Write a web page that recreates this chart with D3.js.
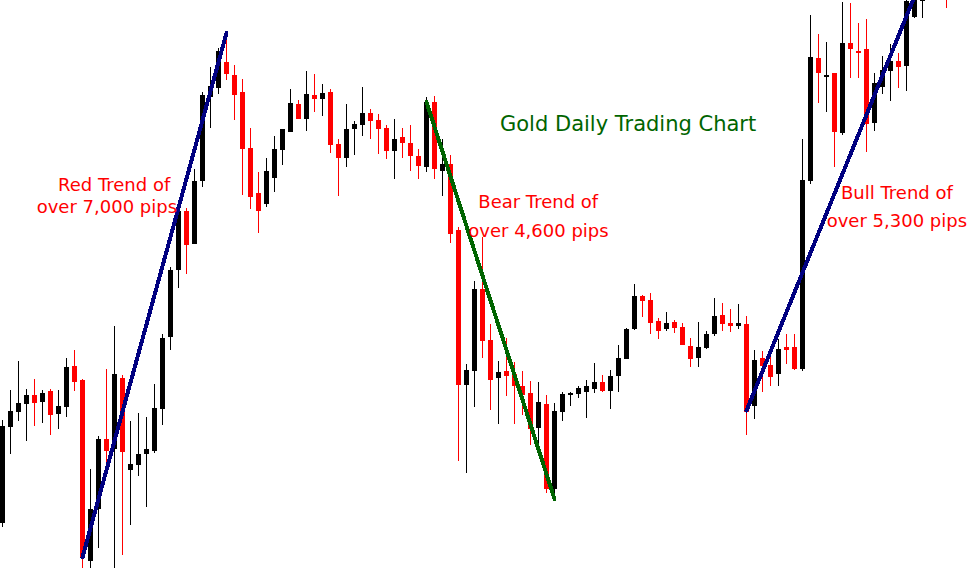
<!DOCTYPE html>
<html>
<head>
<meta charset="utf-8">
<title>Gold Daily Trading Chart</title>
<script src="https://cdn.jsdelivr.net/npm/d3@7"></script>
<style>
	html, body { margin: 0; padding: 0; background: #fff; overflow: hidden; }
	svg { display: block; }
</style>
</head>
<body>
<div id="goldChart"><svg width="971" height="569"></svg></div>
<script>
// daily candles, one per slot (null = bar above the visible window)
const open = [
	77, 173.3, 188.3, 196.3, 205, 198.3, 209, 186, 193.3, 234,
	220, 38.7, 91.3, 161, 151.3, 222, 130.3, 135.3, 146.3, 149.3,
	191.3, 262.7, 330, 389, 356.3, 419, 503.3, 512.3, 538, 525,
	508.3, 452.3, 407.3, 396, 422.3, 450.3, 468.3, 496, 481.3, 505,
	501.3, 508, 456, 442.3, 471, 475, 487, 480, 472, 449.3,
	463, 457, 444, 433.3, 498, 429.3, 436, 370, 215.3, 229.3,
	311, 260, 222.3, 229.3, 226.3, 214.3, 207.3, 172.3, 196.3, 110.7,
	188.3, 205, 206, 208, 211.3, 218, 209, 224, 241, 271,
	304, 300, 279, 271, 278, 273, 254, 242, 252, 266,
	285, 277, 274, 276, 194, 242, 235, 226.3, 253, 253,
	231.3, 418.7, 542, 524, 527, 467.3, 557, 549, 551, 477.3,
	513.3, 529.3, 539, 534.3, 583.3, 599, null, null, 620
];
const high = [
	180, 210, 239, 210.7, 221, 210, 210.7, 210, 242, 250,
	221, 131, 164, 231, 274, 225, 179, 187, 183, 216,
	265.7, 332.7, 391.7, 391.7, 431, 508.3, 533.3, 551.7, 563.3, 535,
	520.7, 472.3, 427.7, 442.3, 464, 471, 511, 500, 529, 526,
	516, 511, 461, 496, 479, 513, 491, 486, 475, 481,
	472, 475, 451, 503, 504, 461, 445, 372.7, 236, 319,
	363.3, 276.3, 239.3, 262.3, 238.3, 229.3, 219.3, 218.3, 205.3, 197.3,
	208.3, 208, 214, 220, 237, 225, 230, 255, 272, 316,
	305, 307, 282, 288, 280, 277, 262, 278, 269, 302,
	297, 291, 296, 284, 250, 249, 243, 261, 266, 266,
	461, 585, 566, 558, 527, 598, 597, 577, 581, 527,
	544, 556, 547, 603, 606, 612, null, null, 628
];
const low = [
	73, 146, 179.3, 159.3, 174, 177.3, 165, 171.3, 183.3, 209.3,
	31.7, 31.7, 51.7, 137, 31.7, 45.3, 75.3, 124.3, 93.3, 147.3,
	175.3, 250, 312.3, 326, 356.3, 413.3, 472.3, 506, 520, 480,
	405, 391, 366.7, 393.3, 408, 435, 468.3, 481.3, 469.3, 488.3,
	484.3, 447.3, 404.3, 433.3, 445.3, 464.3, 461, 446.3, 441.3, 421.3,
	442.3, 429.3, 421.3, 428.3, 421.3, 404.3, 357.3, 139.3, 126.7, 193.3,
	242.3, 190.3, 176.3, 204.3, 176.3, 185.3, 155.3, 156.3, 106.7, 101.7,
	179.3, 194, 202, 182, 207, 208, 191, 208, 241, 270,
	283, 266, 261, 269, 267, 255, 233, 233, 251, 264,
	269, 268, 271, 165, 181, 208.3, 214.3, 214.3, 236.3, 230.3,
	229.3, 415.7, 497.3, 488.3, 433.3, 465.3, 522.3, 522.3, 448.3, 469.3,
	506.3, 499.3, 512.3, 509.3, 582.3, 582.3, null, null, 592.3
];
const close = [
	174, 189, 197, 205, 197.3, 207, 185.3, 194, 233, 218.3,
	42.7, 91, 161, 149.3, 226, 148.3, 136, 146, 151.3, 192,
	262, 330, 389, 355, 419, 505, 514, 549, 526, 505,
	451, 403.3, 389, 429, 451, 471, 497.3, 481.3, 506, 501.3,
	507, 455.3, 442.3, 471, 476, 487, 479.3, 471, 449.3, 461,
	457.3, 444.3, 434.3, 498, 431.3, 436, 366.3, 215.3, 230, 311,
	259.3, 220.3, 228.3, 224.3, 214.3, 205.3, 171.3, 198.3, 110.7, 189.3,
	206.3, 207, 212, 214, 218, 209, 224, 242, 271, 304,
	299, 277, 269, 277, 272, 255, 241, 253, 266, 284,
	276, 274, 277, 188, 240, 234.3, 223.3, 251, 250.3, 231.3,
	420, 543, 527.3, 525, 468.3, 557, 551.3, 547.3, 476.3, 517,
	530, 539, 533.3, 599, 602, 606, null, null, 608
];

// hand-drawn trend lines: [start bar, end bar] and [start price, end price]
const trendBars = [[10, 28], [53, 69], [93, 114]];
const trendPrices = [[42.7, 567], [498, 101], [189.3, 603.7]];
const trendColors = ['#000080', '#006400', '#000080'];

const titleText = 'Gold Daily Trading Chart';
const noteLines = [
	['Red Trend of', 'over 7,000 pips'],
	['Bear Trend of', 'over 4,600 pips'],
	['Bull Trend of', 'over 5,300 pips']
];

const svg = d3.select('#goldChart svg');
const width = +svg.attr('width');
const height = +svg.attr('height');

svg.append('rect')
	.attr('width', width)
	.attr('height', height)
	.attr('fill', '#fff');

// one slot = 8px, candle body 5px
const x = d3.scaleLinear().domain([0, 120]).range([2.5, 962.5]);
const y = d3.scaleLinear().domain([31, 600]).range([height, 0]);

const candles = open
	.map((o, i) => ({ i: i, o: o, h: high[i], l: low[i], c: close[i] }))
	.filter(d => d.o !== null);

const g = svg.append('g').attr('shape-rendering', 'crispEdges');

const candle = g
	.selectAll('.candle')
	.data(candles)
	.enter()
	.append('g')
	.attr('class', 'candle');

candle
	.append('line')
	.attr('x1', d => Math.floor(x(d.i)) + 0.5)
	.attr('x2', d => Math.floor(x(d.i)) + 0.5)
	.attr('y1', d => y(d.h))
	.attr('y2', d => y(d.l))
	.attr('stroke', d => (d.c >= d.o ? '#000' : '#f00'))
	.attr('stroke-width', 1);

candle
	.append('rect')
	.attr('x', d => x(d.i) - 2.5)
	.attr('width', 5)
	.attr('y', d => y(Math.max(d.o, d.c)))
	.attr('height', d => Math.max(1.5, Math.abs(y(d.o) - y(d.c))))
	.attr('fill', d => (d.c >= d.o ? '#000' : '#f00'));

svg.append('g')
	.selectAll('line')
	.data(trendBars)
	.enter()
	.append('line')
	.attr('x1', d => x(d[0]))
	.attr('x2', d => x(d[1]))
	.attr('y1', (d, i) => y(trendPrices[i][0]))
	.attr('y2', (d, i) => y(trendPrices[i][1]))
	.attr('stroke', (d, i) => trendColors[i])
	.attr('stroke-width', 4)
	.attr('stroke-linecap', 'round')
	.attr('shape-rendering', 'crispEdges');

svg.append('text')
	.attr('x', 500)
	.attr('y', 131)
	.style('font', '21px "DejaVu Sans", sans-serif')
	.attr('fill', '#006400')
	.text(titleText);

// label placement: first line x, second line x, baselines
const notePos = [
	[58, 36.7, 190.7, 212.7],
	[478.3, 468.3, 208.3, 237.3],
	[841, 826.7, 198.7, 227.3]
];

noteLines.forEach((lines, i) => {
	const p = notePos[i];
	lines.forEach((t, j) => {
		svg.append('text')
			.attr('x', p[j])
			.attr('y', p[2 + j])
			.style('font', '18px "DejaVu Sans", sans-serif')
			.attr('fill', '#f00')
			.text(t);
	});
});
</script>
</body>
</html>
